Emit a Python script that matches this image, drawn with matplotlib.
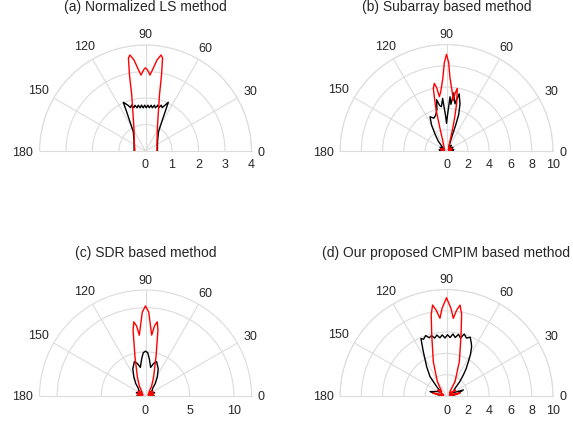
import matplotlib
matplotlib.use('Agg')
import matplotlib.pyplot as plt
import matplotlib.transforms as mtransforms
import numpy as np

plt.rcParams['font.family'] = ['Liberation Sans', 'DejaVu Sans']

# ---- data (theta in degrees, radius) ----
# (a) Normalized LS method
a_red_theta = [0, 39, 60.7, 69.3, 76, 78.1, 79.6, 80.8, 82.8, 85.1, 86.6, 88.6, 90,
               91.4, 93.4, 94.9, 97.2, 99.2, 100.4, 101.9, 103.8, 110.3, 118.7, 140.3, 180]
a_red_r = [0.43, 0.56, 0.91, 1.33, 2.18, 2.93, 3.57, 3.67, 3.46, 3.07, 2.87, 3.06, 3.14,
           3.06, 2.87, 3.07, 3.46, 3.67, 3.57, 2.93, 2.18, 1.33, 0.90, 0.55, 0.40]
a_black_theta = [0, 38.4, 56.0, 60.8, 63.4, 64.9, 69, 71, 73, 75, 77, 79, 81, 83, 85, 87, 89,
                 91, 93, 95, 97, 99, 101, 103, 105, 107, 109, 111, 114.5, 115.7, 118.1,
                 122.3, 140.4, 180]
a_black_r = [0.45, 0.58, 0.88, 1.25, 1.65, 2.03, 1.75, 1.83, 1.71, 1.79, 1.67, 1.76, 1.65,
             1.74, 1.64, 1.73, 1.63, 1.73, 1.63, 1.74, 1.64, 1.75, 1.66, 1.77, 1.69, 1.81,
             1.73, 1.85, 2.02, 1.63, 1.24, 0.86, 0.56, 0.43]

# (b) Subarray based method
b_red_theta = [0, 12, 24, 36, 46, 60, 68, 73, 75, 76.5, 78, 80.2, 81.5, 82.6, 84, 87.2,
               88.6, 90, 91.4, 92.9, 95.5, 97.5, 98.8, 100.2, 101.9, 104, 105, 106.5, 110,
               120, 135, 150, 158, 168, 180]
b_red_r = [0.5, 0.2, 0.6, 0.2, 0.5, 0.4, 0.7, 1.5, 2.4, 3.4, 4.6, 5.97, 5.5, 4.75, 5.4, 6.83,
           8.3, 9.08, 8.3, 6.83, 5.6, 5.15, 6.0, 6.45, 6.01, 4.2, 3.0, 2.0, 1.0,
           0.5, 0.3, 0.2, 0.6, 0.2, 0.5]
b_black_theta = [0, 10, 20, 30, 40, 50, 56, 62, 68, 70, 70.5, 71.5, 74, 77.5, 79.8, 82.9,
                 84.6, 86.3, 88.5, 90, 91.5, 94.2, 96.5, 98.5, 100.9, 103, 107, 111, 115.7,
                 120, 125, 130, 140, 150, 160, 170, 180]
b_black_r = [0.4, 0.7, 0.3, 0.7, 0.3, 0.7, 0.4, 0.5, 1.0, 1.8, 2.6, 3.6, 4.6, 5.5, 4.5, 5.5,
             4.4, 5.1, 3.3, 2.6, 3.3, 4.95, 4.2, 4.3, 4.9, 4.0, 3.5, 3.3, 3.57,
             2.8, 1.8, 1.2, 0.4, 0.7, 0.3, 0.7, 0.4]

# (c) SDR based method
c_red_theta = [0, 8, 16, 24, 32, 40, 49, 58, 67.1, 75, 79.3, 81, 82.7, 84.2, 85.7, 87.8,
               90, 92.2, 94.3, 95.8, 97.3, 99, 100.7, 105, 112.9, 122, 131, 140, 148, 156,
               164, 172, 180]
c_red_r = [0.9, 0.4, 1.0, 0.3, 1.0, 0.5, 0.65, 1.3, 2.37, 4.6, 7.58, 8.5, 8.0, 6.93, 7.8, 9.5,
           10.2, 9.5, 7.8, 6.92, 8.0, 8.5, 7.58, 4.6, 2.37, 1.3, 0.65, 0.5, 1.0, 0.3,
           1.0, 0.4, 0.9]
c_black_theta = [0, 10, 20, 30, 40, 47, 52, 58.4, 65, 72, 76, 79.8, 84, 87, 90, 93, 96,
                 100.2, 104, 108, 115, 121.6, 128, 133, 140, 150, 160, 170, 180]
c_black_r = [1.0, 0.5, 1.1, 0.5, 1.0, 1.19, 1.8, 2.56, 3.4, 4.08, 3.8, 3.29, 4.2, 4.9, 5.08,
             4.9, 4.2, 3.29, 3.8, 4.08, 3.4, 2.52, 1.8, 1.19, 1.0, 0.5, 1.1, 0.5, 1.0]

# (d) Our proposed CMPIM based method
d_red_theta = [0, 12, 24, 34, 42, 51, 59.4, 69.5, 76.6, 79.5, 81.5, 83.3, 85, 87, 90, 93,
               94.8, 96.8, 98.7, 100.6, 103.6, 111, 122.5, 137.7, 146, 156, 168, 180]
d_red_r = [0.3, 1.3, 0.3, 1.0, 0.4, 0.52, 1.57, 3.44, 5.89, 7.8, 8.63, 8.1, 7.32, 8.2, 9.23,
           8.2, 7.32, 8.1, 8.64, 7.8, 5.9, 3.45, 1.6, 0.61, 1.0, 0.3, 1.3, 0.3]
d_black_theta = [0, 10, 19.7, 28, 35, 42, 47, 51.3, 54, 57.5, 60, 63, 65, 68, 71, 74, 76.5,
                 79, 81.5, 84, 86.5, 89, 91.5, 94, 96.5, 99, 101.5, 104, 106.5, 109, 112,
                 114, 117.6, 124.1, 130.4, 136.3, 145, 155, 165, 172, 180]
d_black_r = [0.4, 1.0, 1.68, 0.6, 0.8, 1.07, 1.8, 2.53, 3.1, 3.82, 4.5, 5.2, 5.5, 5.95, 5.75,
             6.05, 5.6, 5.9, 5.55, 5.85, 5.5, 5.75, 5.45, 5.75, 5.5, 5.8, 5.55, 5.85, 5.7,
             6.0, 5.75, 5.9, 4.7, 3.32, 2.39, 1.27, 0.6, 1.0, 1.6, 0.8, 0.4]

titles = ['(a) Normalized LS method', '(b) Subarray based method',
          '(c) SDR based method', '(d) Our proposed CMPIM based method']
rmax_list = [4, 10, 12, 10]
rticks_list = [[0, 1, 2, 3, 4], [0, 2, 4, 6, 8, 10], [0, 5, 10], [0, 2, 4, 6, 8, 10]]
theta_ticks = [0, 30, 60, 90, 120, 150, 180]

grid_col = '#dcdcdc'
text_col = '#262626'

W, H = 573, 425
fig = plt.figure(figsize=(W / 100, H / 100), dpi=100)

# panel centres (px from top-left) and radius in px
centres = [(145.5, 151, 106), (446.5, 151, 106.5), (145.5, 396, 106), (446.5, 396, 106.5)]
title_y = [7.5, 7.5, 253, 253]

curves = [(a_red_theta, a_red_r, a_black_theta, a_black_r),
          (b_red_theta, b_red_r, b_black_theta, b_black_r),
          (c_red_theta, c_red_r, c_black_theta, c_black_r),
          (d_red_theta, d_red_r, d_black_theta, d_black_r)]

down = mtransforms.ScaledTranslation(0, -14.5 / 100, fig.dpi_scale_trans)

for i in range(4):
    cx, cy, R = centres[i]
    # polar axes keeps a square box; the half disc sits in its middle band
    rect = [(cx - R) / W, (H - cy - R / 2) / H, 2 * R / W, 2 * R / H]
    ax = fig.add_axes(rect, projection='polar')
    ax.set_thetamin(0)
    ax.set_thetamax(180)
    ax.set_rlim(0, rmax_list[i])
    ax.set_thetagrids(theta_ticks, labels=[])
    ax.set_rticks(rticks_list[i])
    ax.set_yticklabels([])
    ax.tick_params(axis='both', length=0)
    ax.grid(True, color=grid_col, lw=0.8)
    for s in ax.spines.values():
        s.set_color(grid_col)
        s.set_linewidth(0.8)

    rt, rr, bt, br = curves[i]
    ax.plot(np.radians(bt), br, color='black', lw=1.0)
    ax.plot(np.radians(rt), rr, color='red', lw=1.0)

    # angle labels: a fixed gap between the rim and the edge of each label
    for t in theta_ticks:
        lab = str(t)
        hw = 3.5 * len(lab)
        hh = 4.5
        c, s_ = np.cos(np.radians(t)), np.sin(np.radians(t))
        d = 6.5 + hw * abs(c) + hh * s_
        off = mtransforms.ScaledTranslation(d * c / 100, d * s_ / 100, fig.dpi_scale_trans)
        ax.text(np.radians(t), rmax_list[i], lab, transform=ax.transData + off,
                ha='center', va='center_baseline', fontsize=9, color=text_col,
                clip_on=False)

    # radial tick labels drawn under the base line
    for r in rticks_list[i]:
        ax.text(0, r, str(r), transform=ax.transData + down, ha='center', va='center',
                fontsize=9, color=text_col, clip_on=False)

    fig.text(cx / W, 1 - title_y[i] / H, titles[i], ha='center', va='center',
             fontsize=10, color=text_col)

fig.savefig('out.png', dpi=100)
